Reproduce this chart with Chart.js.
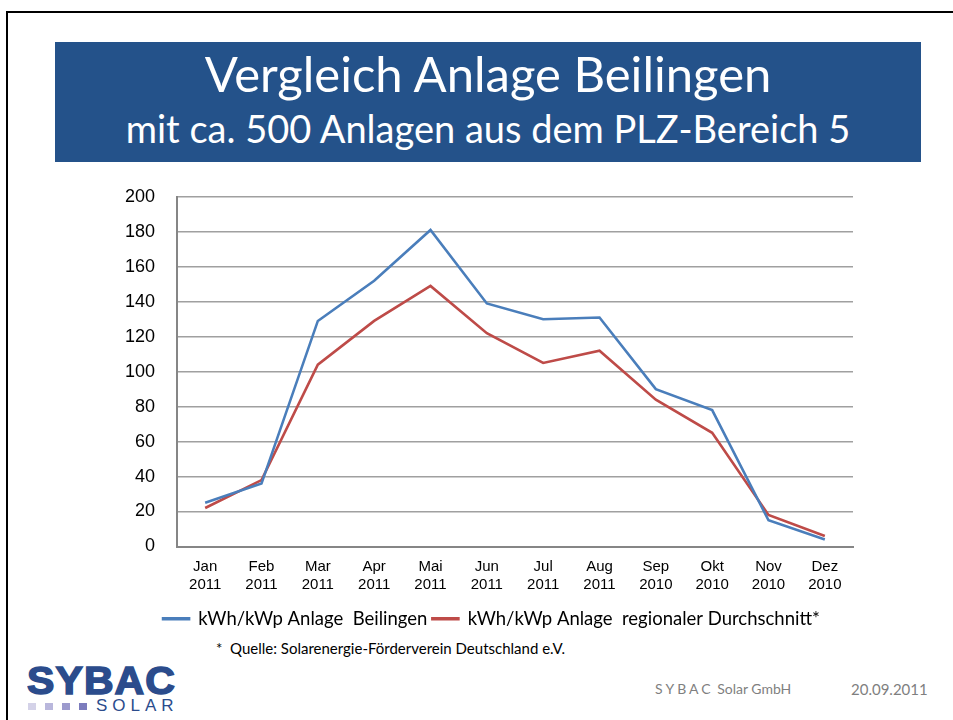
<!DOCTYPE html>
<html>
<head>
<meta charset="utf-8">
<script src="https://cdn.jsdelivr.net/npm/chart.js@4.4.0/dist/chart.umd.min.js"></script>
<style>
  body { margin: 0; width: 953px; height: 720px; background: #fff; position: relative; overflow: hidden; font-family: Lato, sans-serif; }
  .frame { position: absolute; left: 6px; top: 11px; width: 1000px; height: 800px; border-top: 2px solid #000; border-left: 2px solid #000; }
  .titlebox { position: absolute; left: 55px; top: 42px; width: 866px; height: 120px; background: #24528a; color: #fff; text-align: center; }
  .t1 { position: absolute; left: 0; right: 0; top: 7px; font-size: 49px; line-height: 1; white-space: nowrap; }
  .t2 { position: absolute; left: 0; right: 0; top: 67px; font-size: 38px; line-height: 1; white-space: nowrap; }
  .chartwrap { position: absolute; left: 100px; top: 164px; width: 780px; height: 474px; }
  .note { position: absolute; left: 216px; top: 639px; font-size: 15px; color: #000; }
  .footer { position: absolute; top: 680px; font-size: 14px; color: #7f7f7f; }
  .logo { position: absolute; left: 27px; top: 660px; font-family: "Liberation Sans", sans-serif; font-weight: bold; font-size: 38px; color: #2b4c8c; transform: scaleX(1.08); transform-origin: left; letter-spacing: 1px; -webkit-text-stroke: 1.5px #2b4c8c; }
  .solar { position: absolute; left: 96px; top: 696px; font-family: "Liberation Sans", sans-serif; font-size: 17px; color: #2b4c8c; letter-spacing: 5px; }
  .sq { position: absolute; top: 703px; width: 8px; height: 7px; }
</style>
</head>
<body>
<div class="frame"></div>
<div class="titlebox">
  <div class="t1">Vergleich Anlage Beilingen</div>
  <div class="t2">mit ca. 500 Anlagen aus dem PLZ-Bereich 5</div>
</div>
<div class="chartwrap"><canvas id="chart"></canvas></div>
<div class="note">*&nbsp; Quelle: Solarenergie-Förderverein Deutschland e.V.</div>
<div class="logo">SYBAC</div>
<div class="sq" style="left:28px;background:#d4d2e8"></div>
<div class="sq" style="left:45px;background:#b9b7dc"></div>
<div class="sq" style="left:62px;background:#9c9acd"></div>
<div class="sq" style="left:79px;background:#7c7cbd"></div>
<div class="solar">SOLAR</div>
<div class="footer" style="left:655px"><span style="letter-spacing:3px">SYBAC</span> Solar GmbH</div>
<div class="footer" style="left:851px;font-size:15px">20.09.2011</div>
<script>
const months = ['Jan', 'Feb', 'Mar', 'Apr', 'Mai', 'Jun', 'Jul', 'Aug', 'Sep', 'Okt', 'Nov', 'Dez'];
const years = ['2011', '2011', '2011', '2011', '2011', '2011', '2011', '2011', '2010', '2010', '2010', '2010'];
const beilingen = [25, 36, 129, 152, 181, 139, 130, 131, 90, 78, 15, 4];
const regional = [22, 38, 104, 129, 149, 122, 105, 112, 84, 65, 18, 6];
const seriesNames = ['kWh/kWp Anlage  Beilingen', 'kWh/kWp Anlage  regionaler Durchschnitt*'];
const yMin = 0, yMax = 200, yStep = 20;

const labels = months.map((m, i) => [m, years[i]]);

// legend in the slide is centred under the plot, not under the whole canvas
const legendShift = {
  id: 'legendShift',
  afterLayout(chart) {
    chart.legend.left += 15;
    chart.legend.right += 15;
  }
};

new Chart(document.getElementById('chart'), {
  type: 'line',
  data: {
    labels: labels,
    datasets: [
      { label: seriesNames[0], data: beilingen, borderColor: '#4a7ebb', backgroundColor: '#4a7ebb', borderWidth: 2.6, pointRadius: 0, tension: 0 },
      { label: seriesNames[1], data: regional, borderColor: '#be4b48', backgroundColor: '#be4b48', borderWidth: 2.6, pointRadius: 0, tension: 0 }
    ]
  },
  options: {
    responsive: true,
    maintainAspectRatio: false,
    animation: false,
    layout: { padding: { left: 0, right: 27, top: 8, bottom: 0 } },
    plugins: {
      tooltip: { enabled: false },
      legend: {
        position: 'bottom',
        labels: {
          font: { family: 'Lato', size: 18.5 },
          color: '#000',
          boxWidth: 26,
          boxHeight: 1,
          padding: 5
        }
      }
    },
    scales: {
      x: {
        offset: true,
        grid: { display: false, drawTicks: false },
        border: { display: true, color: '#868686', width: 2 },
        ticks: { font: { family: 'Liberation Sans', size: 15 }, color: '#000', padding: 11, maxRotation: 0, autoSkip: false }
      },
      y: {
        min: yMin,
        max: yMax,
        afterFit: (scale) => { scale.width = 77; },
        grid: { color: '#a0a0a0', lineWidth: 1.5, drawTicks: false },
        border: { display: true, color: '#868686', width: 2 },
        ticks: { stepSize: yStep, font: { family: 'Liberation Sans', size: 18 }, color: '#000', padding: 22 }
      }
    }
  },
  plugins: [legendShift]
});
</script>
</body>
</html>
